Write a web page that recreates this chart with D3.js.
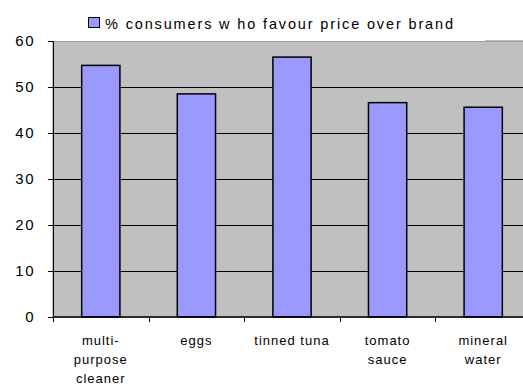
<!DOCTYPE html>
<html>
<head>
<meta charset="utf-8">
<script src="https://cdn.jsdelivr.net/npm/d3@7"></script>
<style>
  body { margin: 0; background: #fff; }
  svg { display: block; font-family: "Liberation Sans", Arial, sans-serif; }
</style>
</head>
<body>
<div id="chart"></div>
<script>
// data
var categories = [['multi-', 'purpose', 'cleaner'], ['eggs'], ['tinned tuna'], ['tomato', 'sauce'], ['mineral', 'water']];
var values = [54.7, 48.5, 56.5, 46.6, 45.6];
var yTicks = [0, 10, 20, 30, 40, 50, 60];
var seriesName = '% consumers w ho favour price over brand';

var width = 523, height = 385;
var margin = { top: 41, bottom: 68, left: 53, right: -8 };

var svg = d3.select('#chart')
  .append('svg')
  .attr('width', width)
  .attr('height', height);

var keys = categories.map(function(d) { return d.join(' '); });

var yScale = d3.scaleLinear()
  .domain([0, 60])
  .range([height - margin.bottom, margin.top]);

var xScale = d3.scaleBand()
  .domain(keys)
  .range([margin.left, width - margin.right])
  .paddingInner(0.6)
  .paddingOuter(0.3);

// plot area
svg.append('rect')
  .attr('x', margin.left)
  .attr('y', margin.top)
  .attr('width', width - margin.right - margin.left)
  .attr('height', yScale(0) - margin.top)
  .attr('fill', '#c0c0c0')
  .attr('stroke', '#808080')
  .attr('stroke-width', 1);

// gridlines
svg.append('g')
  .selectAll('line')
  .data(yTicks.filter(function(d) { return d > 0 && d < 60; }))
  .enter()
  .append('line')
  .attr('x1', margin.left)
  .attr('x2', width - margin.right)
  .attr('y1', function(d) { return Math.round(yScale(d)) + 0.5; })
  .attr('y2', function(d) { return Math.round(yScale(d)) + 0.5; })
  .attr('stroke', '#000')
  .attr('stroke-width', 1);

// bars
svg.append('g')
  .selectAll('rect')
  .data(values)
  .enter()
  .append('rect')
  .attr('x', function(d, i) { return xScale(keys[i]); })
  .attr('y', function(d) { return yScale(d); })
  .attr('width', xScale.bandwidth())
  .attr('height', function(d) { return yScale(0) - yScale(d); })
  .attr('fill', '#9999ff')
  .attr('stroke', '#000')
  .attr('stroke-width', 1.5);

// y axis
var yAxis = svg.append('g')
  .attr('transform', 'translate(' + margin.left + ',0)')
  .call(d3.axisLeft(yScale).tickValues(yTicks).tickSize(5).tickPadding(13));
yAxis.select('.domain').attr('stroke', '#000');
yAxis.selectAll('.tick line').attr('stroke', '#000');
yAxis.selectAll('.tick text')
  .attr('fill', '#000')
  .style('font-size', '15px')
  .style('letter-spacing', '1.5px')
  .style('font-family', '"Liberation Sans", Arial, sans-serif');

// x axis
var xAxis = svg.append('g')
  .attr('transform', 'translate(0,' + yScale(0) + ')');
xAxis.append('line')
  .attr('x1', margin.left)
  .attr('x2', width - margin.right)
  .attr('y1', 0)
  .attr('y2', 0)
  .attr('stroke', '#000')
  .attr('stroke-width', 1.5);
xAxis.selectAll('.tk')
  .data(keys)
  .enter()
  .append('line')
  .attr('class', 'tk')
  .attr('x1', function(d) { return Math.round(xScale(d) - xScale.bandwidth() * 0.75) + 0.5; })
  .attr('x2', function(d) { return Math.round(xScale(d) - xScale.bandwidth() * 0.75) + 0.5; })
  .attr('y1', 0)
  .attr('y2', 5)
  .attr('stroke', '#000');

var labels = xAxis.selectAll('.lbl')
  .data(categories)
  .enter()
  .append('text')
  .attr('class', 'lbl')
  .attr('text-anchor', 'middle')
  .style('font-size', '13px')
  .style('letter-spacing', '1px')
  .attr('fill', '#000');
labels.selectAll('tspan')
  .data(function(d, i) { return d.map(function(l) { return { line: l, key: keys[i] }; }); })
  .enter()
  .append('tspan')
  .attr('x', function(d) { return xScale(d.key) + xScale.bandwidth() / 2; })
  .attr('y', function(d, j) { return 28 + j * 19; })
  .text(function(d) { return d.line; });

// legend
var legend = svg.append('g');
legend.append('rect')
  .attr('x', 50)
  .attr('y', 4)
  .attr('width', 435)
  .attr('height', 37)
  .attr('fill', '#fff');
legend.append('rect')
  .attr('x', 88.5)
  .attr('y', 17.5)
  .attr('width', 11)
  .attr('height', 10)
  .attr('fill', '#9999ff')
  .attr('stroke', '#000');
legend.append('text')
  .attr('x', 105)
  .attr('y', 28.5)
  .attr('textLength', 348)
  .attr('lengthAdjust', 'spacing')
  .style('font-size', '14.5px')
  .attr('fill', '#000')
  .text(seriesName);
</script>
</body>
</html>
